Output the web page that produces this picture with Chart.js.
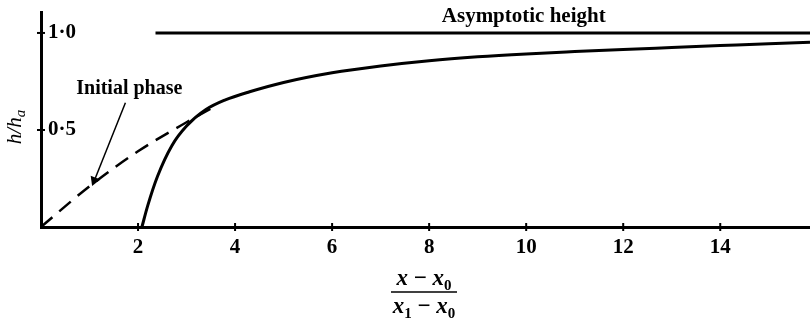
<!DOCTYPE html>
<html><head><meta charset="utf-8">
<script src="https://cdn.jsdelivr.net/npm/chart.js@4.4.1/dist/chart.umd.min.js"></script>
<style>html,body{margin:0;padding:0;background:#fff;} canvas{display:block;}</style>
</head><body>
<canvas id="c" width="810" height="321"></canvas>
<script>
// ---- data ----
const curveX = [2.08, 2.2, 2.4, 2.7, 3.0, 3.4, 3.8, 4.3, 5, 6, 7, 8, 9, 10, 11, 12, 13, 14, 15, 15.85];
const curveY = [0, 0.11, 0.26, 0.42, 0.52, 0.605, 0.655, 0.697, 0.745, 0.795, 0.83, 0.857, 0.877, 0.892, 0.904, 0.915, 0.925, 0.935, 0.945, 0.952];
const initialX = [0, 1, 2, 3, 3.65];
const initialY = [0, 0.21, 0.39, 0.54, 0.63];
const asymX = [2.36, 15.85];
const asymY = [1, 1];
const arrowX = [1.74, 1.10];
const arrowY = [0.64, 0.24];
const xTickValues = [2, 4, 6, 8, 10, 12, 14];
const yTickValues = [0.5, 1.0];
const asymLabel = 'Asymptotic height';
const initialLabel = 'Initial phase';

const SERIF = '"Liberation Serif", "DejaVu Serif", serif';
const pts = (xs, ys) => xs.map((x, i) => ({x: x, y: ys[i]}));

const decorPlugin = {
  id: 'decor',
  afterDraw(chart) {
    const ctx = chart.ctx, xs = chart.scales.x, ys = chart.scales.y;
    const area = chart.chartArea;
    ctx.save();
    ctx.strokeStyle = '#000'; ctx.fillStyle = '#000';
    // crossing tick marks
    ctx.lineWidth = 2;
    xTickValues.forEach(v => {
      const px = xs.getPixelForValue(v);
      ctx.beginPath(); ctx.moveTo(px, area.bottom - 4); ctx.lineTo(px, area.bottom + 4); ctx.stroke();
    });
    yTickValues.forEach(v => {
      const py = ys.getPixelForValue(v);
      ctx.beginPath(); ctx.moveTo(area.left - 4, py); ctx.lineTo(area.left + 4, py); ctx.stroke();
    });
    // annotations
    ctx.font = 'bold 21px ' + SERIF;
    ctx.textBaseline = 'alphabetic';
    ctx.textAlign = 'center';
    ctx.fillText(asymLabel, xs.getPixelForValue(9.95), ys.getPixelForValue(1.057));
    ctx.font = 'bold 20px ' + SERIF;
    ctx.fillText(initialLabel, xs.getPixelForValue(1.82), ys.getPixelForValue(0.686));
    // y title h/h_a (rotated)
    ctx.save();
    ctx.translate(15, 127);
    ctx.rotate(-Math.PI / 2);
    ctx.textAlign = 'left';
    ctx.textBaseline = 'alphabetic';
    const big = 'italic 21px ' + SERIF, sm = 'italic 15px ' + SERIF;
    ctx.font = big; const w1 = ctx.measureText('h/h').width;
    ctx.font = sm; const w2 = ctx.measureText('a').width;
    const x0 = -(w1 + w2) / 2;
    ctx.font = big; ctx.fillText('h/h', x0, 6);
    ctx.font = sm; ctx.fillText('a', x0 + w1, 10);
    ctx.restore();
    // x title fraction
    const cx = 424;
    const drawParts = (parts, baseline) => {
      let total = 0;
      parts.forEach(p => { ctx.font = p[1]; total += ctx.measureText(p[0]).width; });
      let x = cx - total / 2;
      ctx.textAlign = 'left';
      parts.forEach(p => { ctx.font = p[1]; ctx.fillText(p[0], x, baseline + p[2]); x += ctx.measureText(p[0]).width; });
    };
    const F = 'bold italic 23px ' + SERIF, M = 'bold 23px ' + SERIF, S = 'bold 15px ' + SERIF;
    drawParts([['x', F, 0], [' \u2212 ', M, 0], ['x', F, 0], ['0', S, 5]], 285);
    drawParts([['x', F, 0], ['1', S, 5], [' \u2212 ', M, 0], ['x', F, 0], ['0', S, 5]], 313);
    ctx.lineWidth = 1.5;
    ctx.beginPath(); ctx.moveTo(cx - 33, 292); ctx.lineTo(cx + 33, 292); ctx.stroke();
    ctx.restore();
  }
};

new Chart(document.getElementById('c'), {
  type: 'line',
  data: {
    datasets: [
      { data: pts(curveX, curveY), borderColor: '#000', borderWidth: 3, pointRadius: 0, cubicInterpolationMode: 'monotone', fill: false },
      { data: pts(initialX, initialY), borderColor: '#000', borderWidth: 2.5, borderDash: [15, 9], pointRadius: 0, cubicInterpolationMode: 'monotone', fill: false },
      { data: pts(asymX, asymY), borderColor: '#000', borderWidth: 3, pointRadius: 0, fill: false },
      { data: pts(arrowX, arrowY), borderColor: '#000', borderWidth: 1.5, pointRadius: [0, 6], pointStyle: 'triangle', pointRotation: [0, 202], pointBackgroundColor: '#000', pointBorderWidth: 0, fill: false }
    ]
  },
  options: {
    responsive: false,
    devicePixelRatio: 1,
    animation: false,
    layout: { autoPadding: false, padding: { top: 12, right: 0, left: 0, bottom: 0 } },
    plugins: { legend: { display: false }, tooltip: { enabled: false } },
    scales: {
      x: {
        type: 'linear', min: 0, max: 15.85,
        grid: { display: false, drawTicks: false },
        border: { display: true, color: '#000', width: 3 },
        ticks: {
          color: '#000', padding: 8,
          font: { family: SERIF, size: 21, weight: 'bold' },
          callback: v => String(v)
        },
        afterBuildTicks: s => { s.ticks = xTickValues.map(v => ({ value: v })); },
        afterFit: s => { s.height = 94; s.paddingLeft = 0; s.paddingRight = 0; }
      },
      y: {
        type: 'linear', min: 0, max: 1.108,
        grid: { display: false, drawTicks: false },
        border: { display: true, color: '#000', width: 3 },
        ticks: {
          mirror: true, color: '#000', padding: 7,
          font: { family: SERIF, size: 21, weight: 'bold' },
          callback: v => v.toFixed(1).replace('.', '\u00b7')
        },
        afterBuildTicks: s => { s.ticks = yTickValues.map(v => ({ value: v })); },
        afterFit: s => { s.width = 41; s.paddingTop = 0; s.paddingBottom = 0; }
      }
    }
  },
  plugins: [decorPlugin]
});
</script>
</body></html>
